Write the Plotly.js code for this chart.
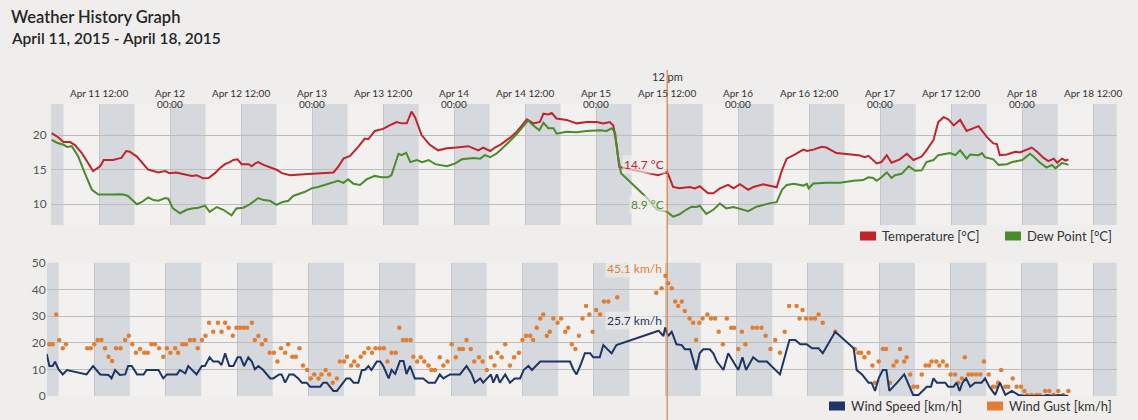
<!DOCTYPE html>
<html>
<head>
<meta charset="utf-8">
<script src="https://cdn.plot.ly/plotly-3.0.1.min.js"></script>
<style>
html,body{margin:0;padding:0;background:#efeeec;}
#chart{width:1138px;height:420px;}
</style>
</head>
<body>
<div id="chart"></div>
<script>
// ---------- DATA (hours after Apr 11, 2015 00:00) ----------
const titleLines = ['Weather History Graph', 'April 11, 2015 - April 18, 2015'];
const seriesNames = ['Temperature [°C]', 'Dew Point [°C]', 'Wind Speed [km/h]', 'Wind Gust [km/h]'];
const tickHours = [12,24,36,48,60,72,84,96,108,120,132,144,156,168,180];
const tickLabels = ['Apr 11 12:00','Apr 12 00:00','Apr 12 12:00','Apr 13 00:00','Apr 13 12:00','Apr 14 00:00','Apr 14 12:00','Apr 15 00:00','Apr 15 12:00','Apr 16 00:00','Apr 16 12:00','Apr 17 00:00','Apr 17 12:00','Apr 18 00:00','Apr 18 12:00'];
const crosshairHour = 108;
const crosshairLabel = '12 pm';

const tempHours = [4.0,5.1,6.0,7.1,7.9,9.1,11.0,12.2,12.8,14.4,15.2,15.8,16.6,17.2,18.4,19.2,20.3,21.2,22.0,23.2,23.9,25.0,26.8,27.7,28.5,29.6,30.5,31.6,32.4,33.3,34.1,34.7,35.4,36.1,37.3,37.8,38.4,38.9,39.8,40.9,42.0,42.9,44.3,46.0,47.7,49.3,51.6,52.4,53.3,54.4,55.8,56.9,57.5,58.6,60.0,61.1,62.3,63.1,64.0,64.8,65.4,66.5,67.9,69.3,70.8,72.4,74.4,76.1,76.9,78.1,78.9,79.8,80.6,81.4,82.6,84.3,85.4,86.5,87.1,87.9,88.5,89.3,91.0,92.7,94.4,96.1,97.2,98.3,98.9,99.5,99.9,106.5,108.0,109.0,110.1,111.8,112.7,113.5,114.9,115.8,116.9,118.3,119.2,120.3,121.7,122.6,124.2,126.5,127.4,128.2,129.6,131.0,131.6,132.7,134.1,134.9,136.6,138.3,140.3,141.4,142.0,143.4,144.2,145.1,145.9,147.3,148.5,149.6,151.0,151.8,153.0,153.8,154.7,155.5,156.4,157.5,158.6,160.6,162.0,163.1,163.7,164.2,165.4,166.8,167.6,169.6,170.5,171.6,172.4,173.3,173.9,174.7,175.3,175.8];
const tempValues = [20.3,19.7,19.0,19.0,18.6,17.4,14.8,15.5,16.4,16.4,16.6,16.7,17.7,17.6,16.9,16.1,15.0,14.8,14.6,14.8,14.5,14.6,14.3,14.1,14.2,13.75,13.8,14.5,15.2,15.8,16.1,16.4,16.5,15.8,15.8,15.5,15.9,16.1,15.7,15.4,15.0,14.5,14.2,14.3,14.4,14.5,14.6,15.4,16.6,17.0,18.3,19.5,19.4,20.6,20.9,21.4,21.9,21.7,21.7,23.4,22.6,20.0,18.6,17.8,18.1,18.2,18.4,17.8,18.2,17.7,18.2,18.6,19.1,19.6,20.5,22.3,21.7,21.9,23.1,23.0,23.2,22.4,22.2,21.7,21.9,21.9,21.7,21.9,21.4,18.3,15.4,14.2,14.7,12.5,12.3,12.5,12.3,12.6,11.6,11.6,12.3,12.8,12.3,12.9,12.1,12.5,12.9,12.45,14.95,16.6,17.2,17.9,17.7,17.9,18.3,18.2,17.4,17.3,17.1,16.8,17.0,15.9,16.1,17.1,16.0,16.5,17.3,16.4,16.9,17.8,19.3,21.9,22.6,22.3,21.4,22.2,20.6,21.3,19.75,18.8,18.7,17.1,17.2,17.6,17.5,18.2,17.6,16.7,16.25,16.6,16.0,16.6,16.3,16.5];

const dewHours = [4.0,4.9,6.0,6.6,7.4,8.5,9.6,10.8,11.9,13.3,14.4,15.2,16.1,16.9,17.8,18.4,19.2,20.3,21.2,22.0,23.2,23.7,24.5,25.7,26.8,27.7,28.8,29.9,30.7,31.9,33.0,34.4,35.2,36.4,37.5,38.9,39.8,40.9,42.0,42.9,44.0,44.8,46.8,47.9,49.0,50.2,51.6,52.4,53.3,54.1,55.0,56.1,57.2,58.6,59.7,60.8,61.4,62.6,63.1,63.9,64.6,65.7,66.6,67.7,68.8,70.8,72.2,73.3,75.3,76.4,77.2,78.1,79.2,80.3,81.4,82.6,83.7,84.5,85.4,86.4,87.1,87.9,88.8,89.3,91.0,92.7,94.4,96.6,97.8,98.6,99.2,99.6,100.2,102.3,104.6,106.3,108.0,109.0,110.1,111.2,112.1,113.0,113.5,114.6,115.8,116.9,118.0,119.2,120.3,121.7,123.1,124.5,125.6,126.5,127.4,128.2,129.4,131.0,131.6,131.9,132.7,134.9,137.2,139.5,141.1,142.0,142.8,143.4,144.2,145.1,145.9,146.5,147.6,148.8,149.9,151.0,151.8,153.0,153.8,155.8,156.7,157.5,158.6,159.2,160.6,161.2,161.7,163.1,164.0,165.4,166.3,168.0,169.3,169.9,171.0,172.1,173.0,173.6,174.7,175.8];
const dewValues = [19.3,18.9,18.6,18.3,18.4,16.9,14.5,12.1,11.4,11.35,11.4,11.45,11.4,11.2,10.4,10.0,10.3,11.0,10.6,10.5,10.9,10.8,9.4,8.7,9.2,9.4,9.5,9.8,8.9,9.6,9.2,8.4,9.4,9.5,10.0,10.9,10.6,10.5,9.9,10.3,10.5,11.2,11.8,12.3,12.5,12.8,13.1,13.4,13.1,13.6,12.95,12.8,13.6,14.1,13.9,13.9,14.2,17.3,17.1,17.45,16.1,16.4,16.1,16.4,15.8,15.5,15.9,16.5,16.7,16.6,17.1,16.8,17.35,18.2,19.1,20.2,21.4,22.1,21.4,20.7,21.8,21.0,21.0,20.2,20.5,20.4,20.6,20.7,20.6,21.0,20.4,17.35,14.5,12.8,10.9,9.2,8.9,8.2,8.55,9.2,9.65,9.6,9.8,8.6,9.2,10.1,9.4,9.6,9.3,9.0,9.65,10.0,10.2,10.3,12.1,12.8,12.95,12.7,12.95,12.3,13.0,13.1,13.1,13.4,13.5,13.9,13.8,13.4,13.9,14.6,13.8,14.2,14.4,15.5,14.85,14.9,16.1,16.4,17.1,17.4,17.1,17.8,16.6,17.2,17.1,17.4,16.8,16.5,15.7,15.8,16.1,16.4,17.3,16.9,16.0,15.3,15.7,15.2,16.0,15.7];

const windHours = [4.0,4.45,5.0,5.4,6.0,6.7,7.4,10.7,11.8,13.0,14.4,14.9,15.5,16.3,17.2,17.7,18.3,19.2,20.3,20.8,22.8,23.6,24.2,25.9,26.4,27.3,27.8,28.4,29.2,30.1,30.6,31.4,32.0,32.9,33.4,34.0,34.7,35.4,36.1,36.6,37.2,37.9,38.5,39.0,39.6,40.4,41.6,42.1,43.1,43.5,44.1,44.8,45.5,46.3,46.9,47.7,48.3,50.0,50.5,51.1,52.2,52.8,53.9,54.4,55.0,55.6,56.4,57.0,57.5,58.1,58.6,59.5,60.1,60.6,61.5,62.0,62.6,63.4,64.0,64.5,65.1,65.9,66.8,67.3,68.2,69.3,70.1,70.7,71.8,72.7,73.5,74.6,75.4,76.0,76.9,77.4,78.0,78.7,79.1,79.7,80.2,81.1,81.9,82.7,83.6,84.2,85.0,85.6,87.0,92.0,92.6,93.1,93.7,94.5,95.4,95.9,97.0,97.6,99.0,99.8,106.9,107.7,108.0,108.5,109.1,109.9,110.8,111.3,112.2,113.2,113.8,114.4,115.5,116.1,116.7,117.8,118.6,119.5,120.3,121.0,121.6,122.8,123.7,125.1,127.3,128.9,129.9,130.7,131.8,132.7,133.8,134.5,136.6,139.7,140.2,141.1,142.2,142.7,143.3,143.9,144.6,145.2,145.7,147.0,148.2,149.7,150.6,152.0,152.7,153.1,153.7,155.1,155.6,156.5,157.0,157.5,158.0,158.6,159.3,160.1,161.2,161.8,162.5,163.5,164.3,165.2,166.3,167.4,168.8,171.6,172.2,173.3,174.1,175.8];
const windValues = [15.75,11.25,11.25,12.9,10,8.1,9.75,8.1,11.25,8.1,7.9,6.6,9.75,7.9,8.1,11.25,11.25,8.1,8.1,9.75,9.75,6.6,8.1,8.1,9.75,8.5,11.25,9.75,8.1,11.25,11.25,14.5,12.9,12.9,11.6,16,11.25,11.25,14.5,14.5,11.25,14.5,12.9,10,11.25,9.75,6.6,6.6,8.1,8.1,5,8.1,8.1,6.6,5,5,3.5,3.5,5,5,1.9,1.9,5,6.6,6.6,5,5,9.75,9.75,11.25,9.75,12.9,12.9,11.25,6.6,9.75,8.3,13.1,13.1,8.25,11.25,6.6,6.6,6.6,5,5,8.1,6.6,8.1,8.1,8.1,11.25,8.5,5,6.6,5,6.6,8.1,5,8.1,5,8.1,5,6.6,6.6,9.75,11.25,9.75,12.9,12.9,9.75,8.1,11.25,16,16,14.5,14.5,19.1,16,19.1,24.5,22.5,25.7,22.5,24.1,19.4,19.1,17.5,17.5,9.75,16,17.5,17.5,16,12.9,9.75,16,12.9,9.75,14.5,9.75,14.5,12.9,12.9,8.1,21,21,19.4,19.4,17.9,17.9,16,24.1,17.9,9.75,8.1,5,5,1.9,6.6,9.75,9.75,1.9,5,8.1,0.4,0.4,3.5,3.5,6.6,5,5,3.5,3.5,5,1.9,5,6.6,3.5,5,5,6.6,3.5,0.4,5,0.4,1.9,0.4,0,0,0.4,0,0.4,0];

const gustHours = [4.45,5.0,5.6,6.1,6.7,7.25,10.8,11.4,12.0,12.55,13.2,13.8,14.4,15.0,15.65,16.4,17.2,17.8,18.4,19.0,19.7,20.4,21.0,21.6,22.2,22.9,23.6,24.2,24.8,25.6,26.1,26.8,27.4,28.1,28.8,29.4,30.1,30.7,31.3,32.0,32.8,33.4,34.0,34.6,35.3,35.9,36.5,37.1,37.7,38.5,39.0,39.6,40.2,40.8,41.5,42.2,42.8,43.4,44.1,44.6,45.3,45.9,46.5,47.1,47.8,48.4,49.0,49.7,50.2,50.9,51.5,52.1,52.8,53.3,54.0,54.5,55.2,55.7,56.3,56.8,57.4,58.1,58.7,59.3,60.0,60.7,61.3,62.0,62.7,63.3,63.9,64.5,65.2,65.65,66.3,66.9,67.5,68.2,68.7,69.3,70.1,70.7,71.4,72.1,72.8,73.4,74.0,74.6,75.3,75.9,76.7,77.3,78.0,78.7,79.3,79.8,80.5,81.1,81.9,82.6,83.4,84.0,84.6,85.3,85.8,86.4,87.0,87.5,88.1,88.6,89.2,89.9,90.5,91.2,91.7,92.3,92.9,93.5,94.1,94.7,95.25,95.8,96.4,97.05,97.7,98.45,99.95,106.5,107.4,108.0,108.5,109.1,109.7,110.2,110.8,111.3,112.1,112.7,113.2,113.75,114.3,115.1,115.7,116.4,117.0,117.7,118.35,119.1,119.6,120.3,120.9,121.5,122.7,123.4,124.2,124.9,125.7,126.5,127.3,128.1,128.85,130.1,130.6,131.1,131.7,132.5,133.2,133.8,134.5,136.6,139.9,140.5,140.95,141.5,142.2,142.85,143.3,143.9,144.6,145.15,145.8,146.4,146.9,147.5,148.2,148.6,149.2,149.75,150.4,151.15,151.8,152.4,152.8,153.6,154.1,154.7,155.35,156.0,156.75,157.3,157.9,158.4,159.0,159.6,160.3,161.0,161.6,162.4,163.1,163.65,164.0,164.5,165.2,165.7,166.45,167.1,167.85,168.4,168.9,169.6,170.4,171.0,171.9,172.6,173.3,174.1,174.9,175.8];
const gustValues = [19.4,19.4,30.6,21,17.9,19.4,17.9,17.9,19.4,21,21,17.9,14.75,13.1,17.9,17.9,21,22.6,19.4,16.25,17.6,16.25,16.25,19.4,19.4,17.9,14.75,17.9,16.25,17.9,16.25,19.4,19.4,21,21,17.9,21,22.6,27.5,24.1,27.5,24.1,27.5,25.6,22.6,25.6,25.6,25.6,25.6,27.5,21,22.5,19.4,21,16.25,16.25,12.9,17.9,16.25,19.4,14.75,14.75,17.9,11.4,9.75,6.6,8.1,6.6,8.1,9.75,8.1,5,6.6,12.9,12.9,14.75,11.4,12.9,11.4,14.75,16.25,17.9,16.25,17.9,17.9,17.9,12.9,16.25,16.25,25.6,21,21,21,14.75,12.9,14.5,12.9,11.4,9.75,9.75,14.5,11.4,12.9,19.4,14.5,17.6,17.6,21,17.6,12.9,14.5,12.9,9.75,14.5,11.4,16.25,14.5,19.4,11.4,14.5,16.25,21,22.6,22.6,21,25.6,29.1,30.6,22.6,24.1,29.1,27.5,29.1,24.1,25.6,19.4,17.6,22.6,29.1,33.75,30.6,24.1,32.25,30.6,35.4,35.4,37,38.75,40.4,45.1,42.25,40.4,35.4,33.75,35.4,31.9,29.1,27.5,21,27.5,29.1,30.6,29.1,29.1,24.1,19.4,29.1,25.6,25.6,17.6,24.1,19.4,25.6,25.6,25.6,22.6,17.6,21,16.25,24.1,33.75,33.75,29.1,32.25,29.1,29.1,29.1,30.6,27.5,24.1,17.6,16.25,16.25,14.5,16.25,11.4,5,12.9,17.6,17.6,5,11.4,12.9,17.6,12.9,14.5,8.1,3.5,3.5,8.1,11.4,11.4,12.9,12.9,11.4,12.9,11.4,8.1,8.1,5,6.6,14.5,8.1,8.1,8.1,8.1,12.9,8.1,3.5,3.5,5,9.75,3.5,3.5,6.6,3.5,3.5,1.9,0.4,0.4,0.4,0.4,1.9,1.9,0.4,1.9,0.4,1.9];

// ---------- HELPERS ----------
function toDate(h){
  const d = new Date(Date.UTC(2015,3,11,0,0,0) + Math.round(h*3600000));
  return d.toISOString().slice(0,19).replace('T',' ');
}
function valueAt(hours, values, h){
  const i = hours.indexOf(h);
  return values[i];
}
const W = 1138, H = 420;
const px = x => x / W;
const py = y => (H - y) / H;

const COL = {temp:'#c1232b', dew:'#4b8b2b', wind:'#1e3566', gust:'#e07e33'};
const FONT = 'Lato, "Open Sans", sans-serif';
const TEXT = '#333333';

const topRange = [toDate(3.84), toDate(183.95)];
const botRange = [toDate(4.0), toDate(183.93)];
const tickVals = tickHours.map(toDate);

// ---------- TRACES ----------
const traces = [
  {x: tempHours.map(toDate), y: tempValues, type:'scatter', mode:'lines', name: seriesNames[0],
   line:{color:COL.temp, width:2}, xaxis:'x', yaxis:'y', hoverinfo:'skip'},
  {x: dewHours.map(toDate), y: dewValues, type:'scatter', mode:'lines', name: seriesNames[1],
   line:{color:COL.dew, width:2}, xaxis:'x', yaxis:'y', hoverinfo:'skip'},
  {x: gustHours.map(toDate), y: gustValues, type:'scatter', mode:'markers', name: seriesNames[3],
   marker:{color:COL.gust, size:4.5}, xaxis:'x2', yaxis:'y2', hoverinfo:'skip'},
  {x: windHours.map(toDate), y: windValues, type:'scatter', mode:'lines', name: seriesNames[2],
   line:{color:COL.wind, width:2}, xaxis:'x2', yaxis:'y2', hoverinfo:'skip'}
];

// ---------- SHAPES (night bands, crosshair, legend swatches) ----------
const shapes = [];
for (let h = 0; h <= 180; h += 12){
  [['x','y'],['x2','y2']].forEach(([xa, ya]) => {
    const start = Math.max(h, xa === 'x' ? 3.84 : 4.0);
    shapes.push({type:'rect', layer:'below', xref:xa, yref: ya + ' domain',
      x0: toDate(start), x1: toDate(h+6), y0:0, y1:1,
      fillcolor:'#d5d8dd', line:{width:0}});
  });
}
shapes.push({type:'line', xref:'x', yref:'paper', x0: toDate(crosshairHour), x1: toDate(crosshairHour),
  y0: 0, y1: py(70), line:{color:'#e07e33', width:1.2}});

const legendItems = [
  {name: seriesNames[0], color: COL.temp, x: 860, y: 236},
  {name: seriesNames[1], color: COL.dew, x: 1005, y: 236},
  {name: seriesNames[2], color: COL.wind, x: 829, y: 406},
  {name: seriesNames[3], color: COL.gust, x: 987, y: 406}
];
const annotations = [];
legendItems.forEach(it => {
  shapes.push({type:'rect', xref:'paper', yref:'paper', x0: px(it.x), x1: px(it.x+16),
    y0: py(it.y+4.5), y1: py(it.y-4.5), fillcolor: it.color, line:{width:0}});
  annotations.push({xref:'paper', yref:'paper', x: px(it.x+20), y: py(it.y), xanchor:'left', yanchor:'middle',
    text: it.name, showarrow:false, font:{family:FONT, size:13, color:'#333'}});
});

// titles
annotations.push({xref:'paper', yref:'paper', x: px(9), y: py(17), xanchor:'left', yanchor:'middle',
  text: titleLines[0], showarrow:false, font:{family:FONT, size:16.5, color:'#262626', weight:600}});
annotations.push({xref:'paper', yref:'paper', x: px(9), y: py(38), xanchor:'left', yanchor:'middle',
  text: titleLines[1], showarrow:false, font:{family:FONT, size:15.5, color:'#262626', weight:600}});

// top axis tick labels: one text per line, placed at the tick dates of the x axis
tickVals.forEach((tv, i) => {
  const s = tickLabels[i];
  const lines = s.endsWith(' 00:00') ? [s.slice(0, -6), '00:00'] : [s];
  lines.forEach((ln, j) => {
    annotations.push({xref:'x', yref:'paper', x: tv, y: py(92.5 + j*11.5), xanchor:'center', yanchor:'middle',
      text: ln, showarrow:false, font:{family:FONT, size:10, color:TEXT}});
  });
});

// crosshair label + values
annotations.push({xref:'x', yref:'paper', x: toDate(crosshairHour), y: py(76), xanchor:'center', yanchor:'middle',
  text: crosshairLabel, showarrow:false, font:{family:FONT, size:11, color:'#333'}});
const valueLabels = [
  {v: valueAt(tempHours, tempValues, crosshairHour), unit:' °C', color: COL.temp, xa:'x', ya:'y'},
  {v: valueAt(dewHours, dewValues, crosshairHour), unit:' °C', color: COL.dew, xa:'x', ya:'y'},
  {v: valueAt(gustHours, gustValues, crosshairHour), unit:' km/h', color: COL.gust, xa:'x2', ya:'y2'},
  {v: valueAt(windHours, windValues, crosshairHour), unit:' km/h', color: COL.wind, xa:'x2', ya:'y2'}
];
valueLabels.forEach(l => {
  annotations.push({xref:l.xa, yref:l.ya, x: toDate(crosshairHour), y: l.v, xanchor:'right', yanchor:'middle',
    xshift:-1, yshift:7, text: l.v.toFixed(1) + l.unit, showarrow:false,
    bgcolor:'rgba(241,240,238,0.65)', borderpad:1,
    font:{family:FONT, size:12, color:l.color}});
});

// ---------- LAYOUT ----------
const gridCol = '#c3c5c9';
const layout = {
  width: W, height: H,
  margin:{l:0, r:0, t:0, b:0},
  paper_bgcolor:'#efeeec', plot_bgcolor:'#f2f1ef',
  showlegend:false,
  font:{family:FONT, color:TEXT},
  xaxis:{type:'date', range: topRange, domain:[px(50.7), px(1116.7)], anchor:'y',
    tickmode:'array', tickvals: tickVals, showticklabels:false, ticks:'',
    showgrid:true, gridcolor: gridCol, gridwidth:1, zeroline:false, showline:false, fixedrange:true},
  yaxis:{range:[7, 24.5], domain:[py(225), py(104)], anchor:'x', tickmode:'array', tickvals:[10,15,20],
    showgrid:true, gridcolor:'#bdbdbd', zeroline:false, showline:false, ticks:'', ticklabelstandoff:3,
    tickfont:{family:FONT, size:12, color:'#555'}, fixedrange:true},
  xaxis2:{type:'date', range: botRange, domain:[px(46.7), px(1116.7)], anchor:'y2',
    tickmode:'array', tickvals: tickVals, showticklabels:false, ticks:'',
    showgrid:true, gridcolor: gridCol, gridwidth:1, zeroline:false, showline:false, fixedrange:true},
  yaxis2:{range:[0, 50], domain:[py(396), py(262.7)], anchor:'x2', dtick:10,
    showgrid:true, gridcolor:'#bdbdbd', zeroline:false, showline:false, ticks:'',
    tickfont:{family:FONT, size:12, color:'#555'}, fixedrange:true},
  shapes: shapes,
  annotations: annotations
};

Plotly.newPlot('chart', traces, layout, {displayModeBar:false, staticPlot:true});
</script>
</body>
</html>
